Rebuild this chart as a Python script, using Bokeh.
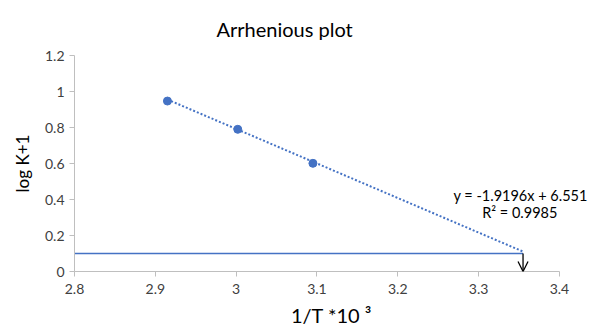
from bokeh.plotting import figure
from bokeh.models import Label, FixedTicker, Arrow, OpenHead
from bokeh.embed import file_html
from bokeh.resources import INLINE

# ---- data ----
inv_T = [2.915, 3.002, 3.095]          # 1/T * 10^3
log_k1 = [0.947, 0.790, 0.601]         # log K + 1
slope = -1.9196
intercept = 6.551
target_x = 3.355                       # where trendline meets the horizontal level
target_y = 0.1                          # horizontal level
x_ticks = [2.8, 2.9, 3.0, 3.1, 3.2, 3.3, 3.4]
x_tick_labels = ["2.8", "2.9", "3", "3.1", "3.2", "3.3", "3.4"]
y_ticks = [0, 0.2, 0.4, 0.6, 0.8, 1.0, 1.2]
y_tick_labels = ["0", "0.2", "0.4", "0.6", "0.8", "1", "1.2"]
title_text = "Arrhenious plot"
x_label = "1/T *10 \u00b3"
y_label = "log K+1"
eq_text = "y = -1.9196x + 6.551"
r2_text = "R\u00b2 = 0.9985"

FONT = "Lato"
BLUE = "#4472C4"
AXIS = "#BFBFBF"
TXT = "#404040"

p = figure(width=588, height=330, x_range=(x_ticks[0], 3.436),
           y_range=(y_ticks[0], y_ticks[-1]), output_backend="svg",
           toolbar_location=None, min_border_left=74, min_border_right=0,
           min_border_top=53, min_border_bottom=59)
p.outline_line_color = None
p.xgrid.grid_line_color = None
p.ygrid.grid_line_color = None

p.title.text = title_text
p.title.text_font = FONT
p.title.text_font_size = "20px"
p.title.text_font_style = "normal"
p.title.text_color = "black"
p.title.align = "left"
p.title.offset = 142
p.title.standoff = 29

for ax, ticks, labels in ((p.xaxis[0], x_ticks, x_tick_labels), (p.yaxis[0], y_ticks, y_tick_labels)):
    ax.ticker = FixedTicker(ticks=ticks)
    ax.major_label_overrides = {t: l for t, l in zip(ticks, labels)}
    ax.bounds = (ticks[0], ticks[-1])
    ax.axis_line_color = AXIS
    ax.axis_line_width = 1
    ax.major_tick_line_color = AXIS
    ax.major_tick_out = 5
    ax.major_tick_in = 0
    ax.minor_tick_line_color = None
    ax.major_label_text_font = FONT
    ax.major_label_text_font_size = "14px"
    ax.major_label_text_color = TXT
    ax.axis_label_text_font = FONT
    ax.axis_label_text_font_style = "normal"
    ax.axis_label_text_color = "black"
p.xaxis[0].major_label_standoff = 7
p.yaxis[0].major_label_standoff = 5
p.xaxis[0].axis_label = x_label
p.xaxis[0].axis_label_text_font_size = "20px"
p.xaxis[0].axis_label_standoff = 6
p.yaxis[0].axis_label = y_label
p.yaxis[0].axis_label_text_font_size = "17px"
p.yaxis[0].axis_label_standoff = 9

# horizontal level line
p.segment(x0=[x_ticks[0]], y0=[target_y], x1=[target_x], y1=[target_y],
          line_color=BLUE, line_width=1.5)

# trendline
tx = [inv_T[0], target_x]
ty = [slope * v + intercept for v in tx]
p.line(tx, ty, line_color=BLUE, line_width=2, line_dash="2 2")

# points
p.scatter(inv_T, log_k1, size=8, color=BLUE)

# arrow
p.add_layout(Arrow(end=OpenHead(size=10, line_color="black", line_width=1.3),
                   x_start=target_x, y_start=target_y, x_end=target_x, y_end=y_ticks[0],
                   line_color="black", line_width=1.3))

def lab(text, x, y, size):
    p.add_layout(Label(x=x, y=y, text=text,
                       text_font=FONT, text_font_size=size, text_color="black",
                       text_align="center", text_baseline="middle"))

lab(eq_text, 3.352, 0.42, "14.5px")
lab(r2_text, 3.351, 0.33, "14.5px")

open("out.html", "w").write(file_html(p, INLINE))
